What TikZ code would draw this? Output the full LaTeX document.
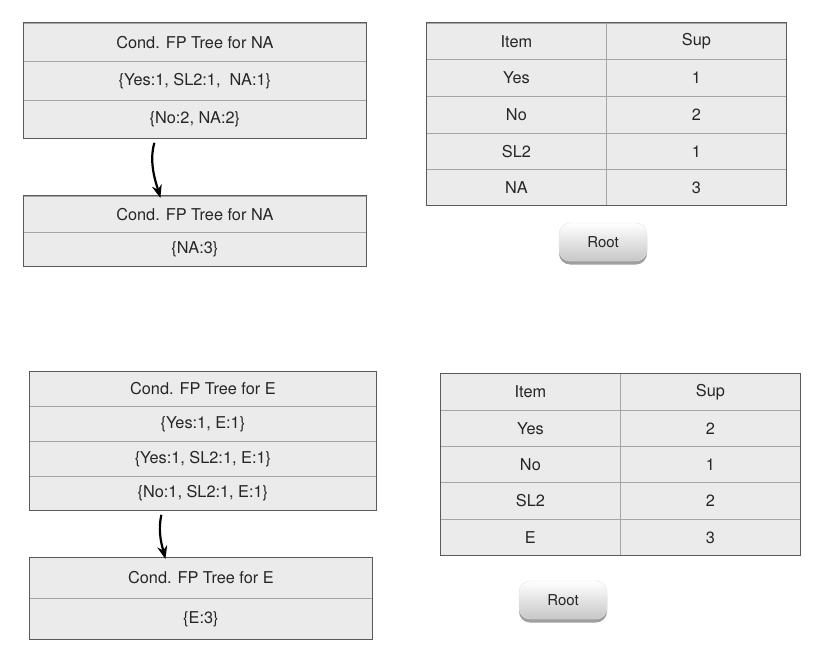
\documentclass[tikz,border=0pt]{standalone}
\usepackage{fontspec}
\setmainfont{TeX Gyre Heros}
\usetikzlibrary{arrows.meta,shadows,calc}
\definecolor{cellfill}{HTML}{EBEBEB}
\definecolor{innerline}{HTML}{A6A6A6}
\definecolor{outerline}{HTML}{5A5A5A}
\definecolor{txt}{HTML}{262626}
\tikzset{
  cell/.style={draw=innerline, fill=cellfill, line width=0.8pt, anchor=north west,
    inner sep=0pt, font=\fontsize{16.3}{18}\selectfont, text=txt},
  outerbox/.style={draw=outerline, line width=1pt},
  rootbtn/.style={rounded corners=11pt, top color=white, bottom color=black!22,
    draw=black!10, line width=0.4pt, minimum width=88pt, minimum height=38pt,
    font=\fontsize{15}{17}\selectfont, text=txt,
    drop shadow={shadow xshift=0pt, shadow yshift=-3.5pt, opacity=0.5, fill=black!75}},
  flow/.style={-{Stealth[length=13pt,width=10pt]}, line width=2.2pt, black}
}
\begin{document}
\begin{tikzpicture}[x=1pt,y=-1pt]
\useasboundingbox[fill=white] (0,0) rectangle (832,663);
% Top left box
\node[cell, minimum width=343pt, minimum height=38pt] (a1) at (23,23) {Cond. FP Tree for NA};
\node[cell, minimum width=343pt, minimum height=39pt] (a2) at (23,61) {\{Yes:1, SL2:1,\ \ NA:1\}};
\node[cell, minimum width=343pt, minimum height=38pt] (a3) at (23,100) {\{No:2, NA:2\}};
\draw[outerbox] (a1.north west) rectangle (a3.south east);
\node[cell, minimum width=343pt, minimum height=36pt] (b1) at (23,196) {Cond. FP Tree for NA};
\node[cell, minimum width=343pt, minimum height=34pt] (b2) at (23,232) {\{NA:3\}};
\draw[outerbox] (b1.north west) rectangle (b2.south east);
\draw[flow] ([xshift=-40.5pt,yshift=-4pt]a3.south) .. controls +(-6,20) and +(-4,-14) .. ([xshift=-34.5pt,yshift=-2pt]b1.north);
% Top right table
\node[cell, minimum width=180pt, minimum height=36pt] (t11) at (426,23) {Item};
\node[cell, minimum width=180pt, minimum height=36pt] (t12) at (606,23) {Sup};
\node[cell, minimum width=180pt, minimum height=37pt] (t21) at (426,59) {Yes};
\node[cell, minimum width=180pt, minimum height=37pt] (t22) at (606,59) {1};
\node[cell, minimum width=180pt, minimum height=37pt] (t31) at (426,96) {No};
\node[cell, minimum width=180pt, minimum height=37pt] (t32) at (606,96) {2};
\node[cell, minimum width=180pt, minimum height=36pt] (t41) at (426,133) {SL2};
\node[cell, minimum width=180pt, minimum height=36pt] (t42) at (606,133) {1};
\node[cell, minimum width=180pt, minimum height=36pt] (t51) at (426,169) {NA};
\node[cell, minimum width=180pt, minimum height=36pt] (t52) at (606,169) {3};
\draw[outerbox] (t11.north west) rectangle (t52.south east);
\node[rootbtn] (r1) at (603,242) {Root};
% Bottom left box
\node[cell, minimum width=347pt, minimum height=35pt] (c1) at (29,371) {Cond. FP Tree for E};
\node[cell, minimum width=347pt, minimum height=35pt] (c2) at (29,406) {\{Yes:1, E:1\}};
\node[cell, minimum width=347pt, minimum height=35pt] (c3) at (29,441) {\{Yes:1, SL2:1, E:1\}};
\node[cell, minimum width=347pt, minimum height=34pt] (c4) at (29,476) {\{No:1, SL2:1, E:1\}};
\draw[outerbox] (c1.north west) rectangle (c4.south east);
\node[cell, minimum width=343pt, minimum height=41pt] (d1) at (29,557) {Cond. FP Tree for E};
\node[cell, minimum width=343pt, minimum height=41pt] (d2) at (29,598) {\{E:3\}};
\draw[outerbox] (d1.north west) rectangle (d2.south east);
\draw[flow] ([xshift=-41.5pt,yshift=-4pt]c4.south) .. controls +(-4,18) and +(-3,-12) .. ([xshift=-35.5pt,yshift=-2pt]d1.north);
% Bottom right table
\node[cell, minimum width=180pt, minimum height=37pt] (u11) at (440,373) {Item};
\node[cell, minimum width=180pt, minimum height=37pt] (u12) at (620,373) {Sup};
\node[cell, minimum width=180pt, minimum height=36pt] (u21) at (440,410) {Yes};
\node[cell, minimum width=180pt, minimum height=36pt] (u22) at (620,410) {2};
\node[cell, minimum width=180pt, minimum height=36pt] (u31) at (440,446) {No};
\node[cell, minimum width=180pt, minimum height=36pt] (u32) at (620,446) {1};
\node[cell, minimum width=180pt, minimum height=37pt] (u41) at (440,482) {SL2};
\node[cell, minimum width=180pt, minimum height=37pt] (u42) at (620,482) {2};
\node[cell, minimum width=180pt, minimum height=36pt] (u51) at (440,519) {E};
\node[cell, minimum width=180pt, minimum height=36pt] (u52) at (620,519) {3};
\draw[outerbox] (u11.north west) rectangle (u52.south east);
\node[rootbtn] (r2) at (563,600) {Root};
\end{tikzpicture}
\end{document}
